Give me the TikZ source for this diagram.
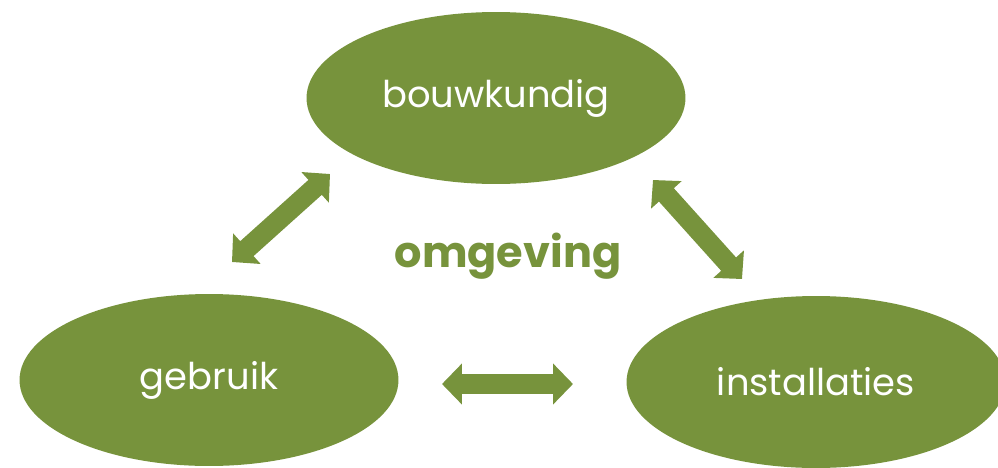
\documentclass[tikz,border=0pt]{standalone}
\usepackage{fontspec}
\setmainfont{Poppins}
\usetikzlibrary{shapes.geometric,arrows.meta}
\definecolor{leaf}{HTML}{77933C}
\tikzset{
	blob/.style={ellipse, fill=leaf, draw=none, minimum width=7.58cm, minimum height=3.44cm, inner sep=0pt, text=white, font=\fontsize{21}{25}\selectfont},
	link/.style={draw=leaf, line width=0.4cm, {Triangle[width=0.8cm, length=0.4cm]}-{Triangle[width=0.8cm, length=0.4cm]}}
}

\begin{document}
\begin{tikzpicture}[x=0.02cm, y=-0.02cm]
			%%%%% START %%%%%
			\useasboundingbox (0, 0) rectangle (998, 467);
			
			\node[blob] (bouw) at (496, 98) {bouwkundig};
			\node[blob] (gebr) at (209, 380) {gebruik};
			\node[blob] (inst) at (816, 382) {installaties};
			
			\node[text=leaf, font=\fontsize{24.5}{29}\selectfont\bfseries] (omg) at (508, 256) {omgeving};
			
			\coordinate (l1) at (330, 174);
			\coordinate (l2) at (232, 262);
			\coordinate (r1) at (653, 180);
			\coordinate (r2) at (742, 279);
			\coordinate (b1) at (442, 384);
			\coordinate (b2) at (573, 384);
			
			\draw[link] (l1) -- (l2);
			\draw[link] (r1) -- (r2);
			\draw[link] (b1) -- (b2);
			%%%%% END %%%%%
\end{tikzpicture}
\end{document}
